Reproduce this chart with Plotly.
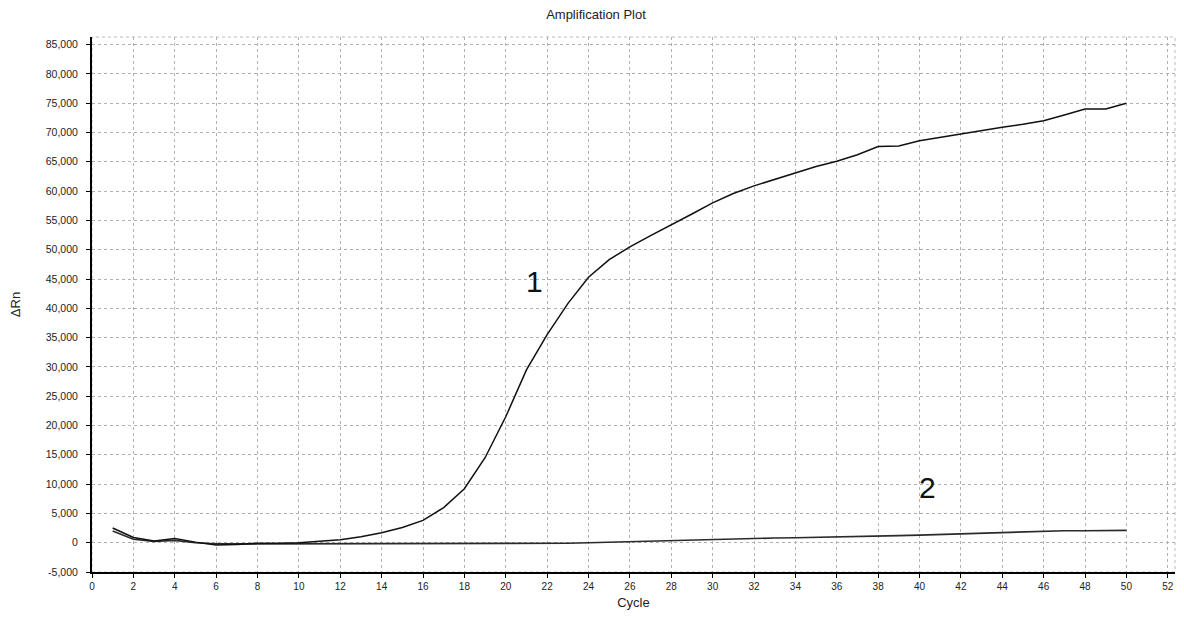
import plotly.graph_objects as go

cycles = list(range(1, 51))
curve1 = [2500, 900, 300, 700, 100, -400, -300, -100, -100, 0,
          250, 500, 1000, 1700, 2600, 3800, 6000, 9200, 14500, 21500,
          29500, 35500, 40800, 45300, 48300, 50500, 52400, 54200, 56100, 58000,
          59600, 60900, 62000, 63100, 64200, 65100, 66200, 67600, 67700, 68600,
          69200, 69800, 70400, 70900, 71400, 72000, 73000, 74000, 74000, 75000]
curve2 = [2000, 600, 200, 400, 0, -200, -200, -200, -200, -200,
          -200, -200, -200, -200, -200, -200, -200, -200, -150, -150,
          -150, -100, -100, 0, 100, 200, 300, 400, 450, 500,
          600, 700, 800, 850, 900, 1000, 1100, 1150, 1200, 1300,
          1400, 1500, 1600, 1700, 1800, 2000, 2050, 2050, 2050, 2100]

x_ticks = list(range(0, 53, 2))
y_ticks = list(range(-5000, 85001, 5000))
y_ticktext = [f"{v:,}" for v in y_ticks]

fig = go.Figure()
fig.add_trace(go.Scatter(x=cycles, y=curve2, mode="lines",
                         line=dict(color="#2a2a2a", width=1.6), showlegend=False))
fig.add_trace(go.Scatter(x=cycles, y=curve1, mode="lines",
                         line=dict(color="#111111", width=1.5), showlegend=False))

fig.add_annotation(x=21.4, y=44500, text="1", showarrow=False,
                   font=dict(size=30, color="#111111", family="Liberation Sans"))
fig.add_annotation(x=40.4, y=9400, text="2", showarrow=False,
                   font=dict(size=30, color="#111111", family="Liberation Sans"))

W, H = 1176, 602
fig.update_layout(
    width=W, height=H,
    margin=dict(l=84, r=9, t=29, b=38, autoexpand=False),
    paper_bgcolor="white", plot_bgcolor="white",
    font=dict(family="Liberation Sans", size=10, color="#222222"),
    title=dict(text="Amplification Plot", x=0.5, xanchor="center",
               y=1 - 6 / H, yanchor="middle",
               font=dict(size=13, color="#222222")),
    shapes=[dict(type="rect", xref="paper", yref="paper", x0=0, y0=0, x1=1, y1=1,
                 line=dict(color="#bbbbbb", width=1, dash="dot"), layer="below")],
)
fig.update_xaxes(range=[0, 52.35], tickmode="array", tickvals=x_ticks,
                 showline=True, linecolor="black", linewidth=2,
                 ticks="outside", ticklen=4, tickcolor="black",
                 showgrid=True, gridcolor="#b0b0b0", griddash="dot", gridwidth=1,
                 zeroline=False, automargin=False,
                 title=dict(text="Cycle", font=dict(size=13), standoff=12),
                 tickfont=dict(size=10))
fig.update_yaxes(range=[-5000, 86300], tickmode="array", tickvals=y_ticks,
                 ticktext=y_ticktext,
                 showline=True, linecolor="black", linewidth=2,
                 ticks="outside", ticklen=4, tickcolor="black",
                 showgrid=True, gridcolor="#b0b0b0", griddash="dot", gridwidth=1,
                 zeroline=False, automargin=False, ticklabelstandoff=6,
                 title=dict(text="ΔRn", font=dict(size=13), standoff=22),
                 tickfont=dict(size=10.5))

fig.write_html("out.html")
